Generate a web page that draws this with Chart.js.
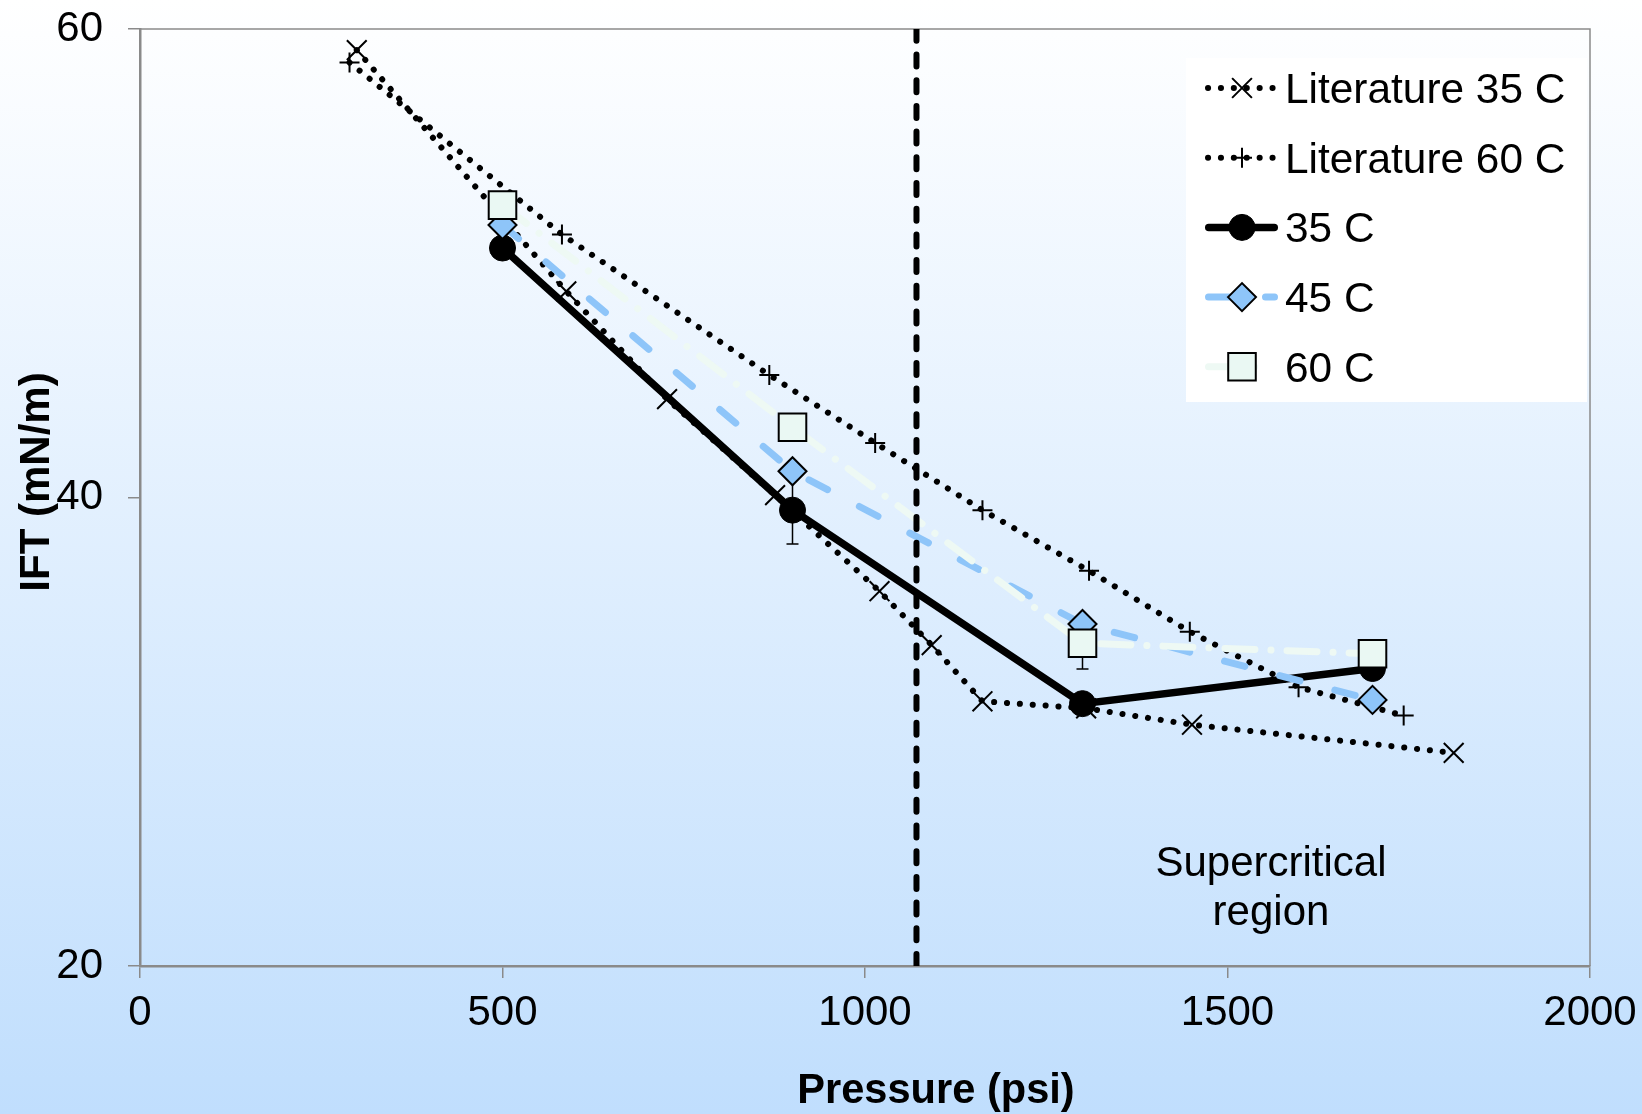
<!DOCTYPE html>
<html>
<head>
<meta charset="utf-8">
<title>IFT vs Pressure</title>
<script src="https://cdn.jsdelivr.net/npm/chart.js@4/dist/chart.umd.min.js"></script>
<style>
  html, body { margin: 0; padding: 0; background: #fff; overflow: hidden; }
  canvas { display: block; }
</style>
</head>
<body>
<canvas id="chart" width="1642" height="1114"></canvas>
<script>
// values: pressure in psi, IFT in mN/m
const lit35Pressure = [299, 588, 727, 876, 1020, 1092, 1162, 1305, 1451, 1812];
const lit35Ift = [59.1, 48.8, 44.2, 40.1, 36.0, 33.7, 31.3, 31.0, 30.3, 29.1];

const lit60Pressure = [289, 582, 868, 1014, 1162, 1309, 1448, 1598, 1743];
const lit60Ift = [58.57, 51.23, 45.23, 42.33, 39.46, 36.87, 34.27, 31.9, 30.69];

const expPressure = [500, 900, 1300, 1700];
const ift35 = [50.65, 39.46, 31.2, 32.7];
const ift45 = [51.63, 41.12, 34.6, 31.36];
const ift60 = [52.48, 43.0, 33.78, 33.33];
const err35 = [0, 1.45, 0, 0];
const err45 = [0, 0, 0, 0];
const err60 = [0, 0, 1.1, 0];

const criticalPressure = 1071;
const iftRange = [20, 60];

const xTicks = [0, 500, 1000, 1500, 2000];
const yTicks = [20, 40, 60];

const seriesLabels = ["Literature 35 C", "Literature 60 C", "35 C", "45 C", "60 C"];
const regionLabel = ["Supercritical", "region"];
const regionAt = { x: 1560, y: 23.45 };

const FONT = "'Liberation Sans', Arial, Helvetica, sans-serif";
const axisGrey = "#8a8a8a";
const blue = "#8ec5f9";
const mint = "#eaf8f3";
const paleLine = "#eef9f4";

Chart.defaults.font.family = FONT;

function toPoints(xs, ys) {
    return xs.map((x, i) => ({ x: x, y: ys[i] }));
}

function drawMarker(ctx, style, x, y, r, fill, stroke, lw) {
    ctx.save();
    ctx.beginPath();
    let closed = true;
    if (style === "circle") {
        ctx.arc(x, y, r, 0, Math.PI * 2);
    } else if (style === "rect") {
        const s = r * Math.SQRT1_2;
        ctx.rect(x - s, y - s, 2 * s, 2 * s);
    } else if (style === "rectRot") {
        ctx.moveTo(x - r, y);
        ctx.lineTo(x, y - r);
        ctx.lineTo(x + r, y);
        ctx.lineTo(x, y + r);
        ctx.closePath();
    } else if (style === "cross") {
        closed = false;
        ctx.moveTo(x - r, y); ctx.lineTo(x + r, y);
        ctx.moveTo(x, y - r); ctx.lineTo(x, y + r);
    } else if (style === "crossRot") {
        closed = false;
        const s = r * Math.SQRT1_2;
        ctx.moveTo(x - s, y - s); ctx.lineTo(x + s, y + s);
        ctx.moveTo(x - s, y + s); ctx.lineTo(x + s, y - s);
    }
    if (closed && fill) {
        ctx.fillStyle = fill;
        ctx.fill();
    }
    ctx.strokeStyle = stroke;
    ctx.lineWidth = lw;
    ctx.stroke();
    ctx.restore();
}

const backgroundPlugin = {
    id: "bg",
    beforeDraw(chart) {
        const ctx = chart.ctx;
        const g = ctx.createLinearGradient(0, 0, 0, chart.height);
        g.addColorStop(0, "#ffffff");
        g.addColorStop(1, "#c0defd");
        ctx.save();
        ctx.fillStyle = g;
        ctx.fillRect(0, 0, chart.width, chart.height);
        ctx.restore();
    },
};

const errorBarSeries = [
    { ys: ift35, errs: err35 },
    { ys: ift45, errs: err45 },
    { ys: ift60, errs: err60 },
];

const underlayPlugin = {
    id: "underlay",
    beforeDatasetsDraw(chart) {
        const { ctx, chartArea: a, scales } = chart;
        ctx.save();
        // plot frame (top and right edges)
        ctx.strokeStyle = axisGrey;
        ctx.lineWidth = 1.5;
        ctx.beginPath();
        ctx.moveTo(a.left, a.top);
        ctx.lineTo(a.right, a.top);
        ctx.lineTo(a.right, a.bottom);
        ctx.stroke();

        // error bars
        ctx.strokeStyle = "#000";
        ctx.lineWidth = 1.5;
        errorBarSeries.forEach((s) => {
            s.errs.forEach((e, i) => {
                if (!e) return;
                const px = scales.x.getPixelForValue(expPressure[i]);
                const top = scales.y.getPixelForValue(s.ys[i] + e);
                const bot = scales.y.getPixelForValue(s.ys[i] - e);
                ctx.beginPath();
                ctx.moveTo(px, top); ctx.lineTo(px, bot);
                ctx.moveTo(px - 6, top); ctx.lineTo(px + 6, top);
                ctx.moveTo(px - 6, bot); ctx.lineTo(px + 6, bot);
                ctx.stroke();
            });
        });
        ctx.restore();
    },
};

const overlayPlugin = {
    id: "overlay",
    afterDraw(chart) {
        const { ctx, scales } = chart;
        ctx.save();

        // region text
        const rx = scales.x.getPixelForValue(regionAt.x);
        const ry = scales.y.getPixelForValue(regionAt.y);
        ctx.fillStyle = "#000";
        ctx.font = "42px " + FONT;
        ctx.textAlign = "center";
        ctx.textBaseline = "alphabetic";
        ctx.fillText(regionLabel[0], rx, ry - 9.5);
        ctx.fillText(regionLabel[1], rx, ry + 39.5);

        // axis titles
        ctx.font = "bold 41.6px " + FONT;
        ctx.fillText("Pressure (psi)", 936, 1103);
        ctx.save();
        ctx.translate(49, 482);
        ctx.rotate(-Math.PI / 2);
        ctx.font = "bold 42px " + FONT;
        ctx.fillText("IFT (mN/m)", 0, 0);
        ctx.restore();

        // legend
        ctx.fillStyle = "#ffffff";
        ctx.fillRect(1186, 58, 401, 344);
        const x0 = 1205, x1 = 1278, mx = 1242;
        seriesLabels.forEach((label, i) => {
            const ds = chart.data.datasets[i];
            const y = 88 + i * 69.7;
            const round = ds.borderCapStyle === "round";
            ctx.save();
            ctx.strokeStyle = ds.borderColor;
            ctx.lineWidth = ds.borderWidth;
            ctx.lineCap = ds.borderCapStyle || "butt";
            ctx.setLineDash(ds.borderDash || []);
            ctx.beginPath();
            ctx.moveTo(round ? x0 + ds.borderWidth / 2 : x0, y);
            ctx.lineTo(i === 4 ? 1264 : x1 - (round ? ds.borderWidth / 2 : 0), y);
            ctx.stroke();
            ctx.restore();
            drawMarker(ctx, ds.pointStyle, mx, y, ds.pointRadius, ds.pointBackgroundColor,
                ds.pointBorderColor, ds.pointBorderWidth);
            ctx.fillStyle = "#000";
            ctx.font = "42.4px " + FONT;
            ctx.textAlign = "left";
            ctx.fillText(label, 1285, y + 15);
        });
        ctx.restore();
    },
};

const dotted = [0.1, 12.8];

new Chart(document.getElementById("chart"), {
    type: "scatter",
    data: {
        datasets: [
            {
                label: seriesLabels[0],
                data: toPoints(lit35Pressure, lit35Ift),
                showLine: true,
                borderColor: "#000",
                borderWidth: 6,
                borderDash: dotted,
                borderCapStyle: "round",
                pointStyle: "crossRot",
                pointRadius: 14,
                pointBorderColor: "#000",
                pointBackgroundColor: "#000",
                pointBorderWidth: 2,
                order: 5,
            },
            {
                label: seriesLabels[1],
                data: toPoints(lit60Pressure, lit60Ift),
                showLine: true,
                borderColor: "#000",
                borderWidth: 6,
                borderDash: dotted,
                borderCapStyle: "round",
                pointStyle: "cross",
                pointRadius: 10,
                pointBorderColor: "#000",
                pointBackgroundColor: "#000",
                pointBorderWidth: 2,
                order: 4,
            },
            {
                label: seriesLabels[2],
                data: toPoints(expPressure, ift35),
                showLine: true,
                borderColor: "#000",
                borderWidth: 7.5,
                borderCapStyle: "round",
                pointStyle: "circle",
                pointRadius: 13,
                pointBackgroundColor: "#000",
                pointBorderColor: "#000",
                pointBorderWidth: 1,
                order: 3,
            },
            {
                label: seriesLabels[3],
                data: toPoints(expPressure, ift45),
                showLine: true,
                borderColor: blue,
                borderWidth: 7,
                borderDash: [21, 36],
                borderCapStyle: "round",
                pointStyle: "rectRot",
                pointRadius: 14,
                pointBackgroundColor: blue,
                pointBorderColor: "#000",
                pointBorderWidth: 2,
                order: 2,
            },
            {
                label: seriesLabels[4],
                data: toPoints(expPressure, ift60),
                showLine: true,
                borderColor: paleLine,
                borderWidth: 7,
                borderDash: [30, 16, 0.1, 16],
                borderCapStyle: "round",
                pointStyle: "rect",
                pointRadius: 19.5,
                pointBackgroundColor: mint,
                pointBorderColor: "#000",
                pointBorderWidth: 2,
                order: 1,
            },
            {
                label: "critical pressure",
                data: toPoints([criticalPressure, criticalPressure], iftRange),
                showLine: true,
                borderColor: "#000",
                borderWidth: 6,
                borderDash: [12, 13.7],
                borderCapStyle: "round",
                pointRadius: 0,
                order: 0,
            },
        ],
    },
    options: {
        responsive: false,
        animation: false,
        events: [],
        layout: { padding: { top: 29, right: 52, left: 0, bottom: 0 } },
        plugins: {
            legend: { display: false },
            tooltip: { enabled: false },
        },
        scales: {
            x: {
                type: "linear",
                min: 0,
                max: 2000,
                afterBuildTicks: (s) => { s.ticks = xTicks.map((v) => ({ value: v })); },
                afterFit: (s) => {
                    s.height = 148;
                    s.paddingLeft = 0;
                    s.paddingRight = 0;
                },
                border: { color: axisGrey, width: 2.5 },
                grid: { drawOnChartArea: false, drawTicks: true, tickLength: 12, color: axisGrey, lineWidth: 1.5 },
                ticks: {
                    color: "#000",
                    font: { size: 42 },
                    padding: 10,
                    maxRotation: 0,
                    autoSkip: false,
                    callback: (v) => String(v),
                },
            },
            y: {
                type: "linear",
                min: 20,
                max: 60,
                afterBuildTicks: (s) => { s.ticks = yTicks.map((v) => ({ value: v })); },
                afterFit: (s) => {
                    s.width = 140;
                    s.paddingTop = 0;
                    s.paddingBottom = 0;
                },
                border: { color: axisGrey, width: 2.5 },
                grid: { drawOnChartArea: false, drawTicks: true, tickLength: 12, color: axisGrey, lineWidth: 1.5 },
                ticks: {
                    color: "#000",
                    font: { size: 42 },
                    padding: 25,
                    autoSkip: false,
                    callback: (v) => String(v),
                },
            },
        },
    },
    plugins: [backgroundPlugin, underlayPlugin, overlayPlugin],
});
</script>
</body>
</html>
